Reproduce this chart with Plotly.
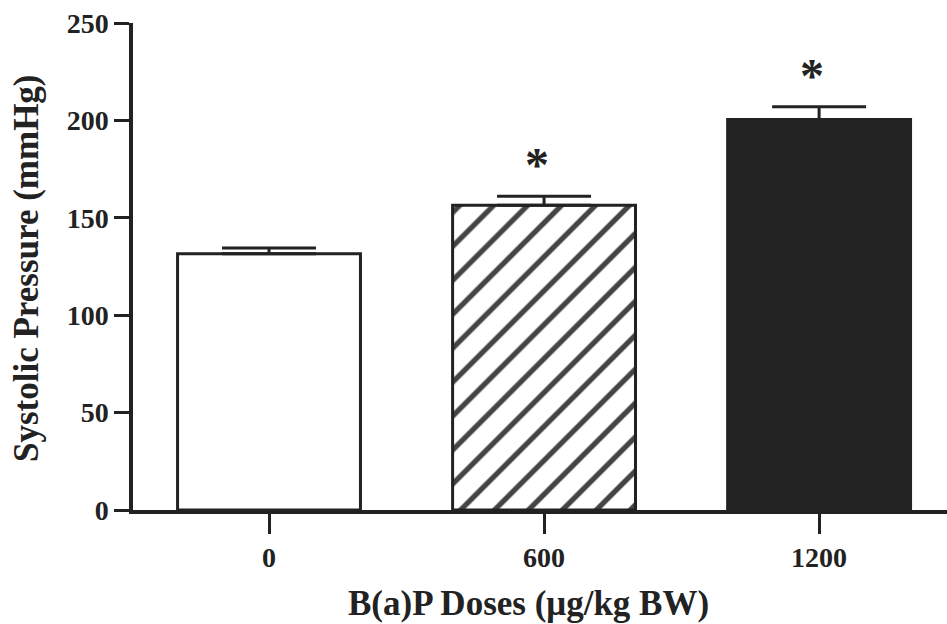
import plotly.graph_objects as go

categories = ["0", "600", "1200"]
values = [131.5, 156.5, 200.5]
errors = [3.0, 4.5, 6.5]
significant = [False, True, True]
y_ticks = [0, 50, 100, 150, 200, 250]

INK = "#222222"
FONT = "Liberation Serif"

x_idx = list(range(len(categories)))

fig = go.Figure()
fig.add_trace(go.Bar(
    x=x_idx, y=values, width=0.665,
    marker=dict(
        color=["white", "white", INK],
        line=dict(color=INK, width=3),
        pattern=dict(shape=["", "/", ""], fgcolor=INK, bgcolor="white",
                     fgopacity=1, size=24, solidity=0.22, fillmode="overlay"),
    ),
    error_y=dict(type="data", symmetric=False, array=errors,
                 arrayminus=[0] * len(errors), color=INK, thickness=3, width=47),
    showlegend=False,
))

for i, (v, e, s) in enumerate(zip(values, errors, significant)):
    if s:
        fig.add_annotation(x=i - 0.025, y=v + e + 1.5, text="*", showarrow=False,
                           yanchor="bottom", xanchor="center",
                           font=dict(family=FONT, size=48, color=INK, weight="bold"))

fig.add_annotation(text="B(a)P Doses (\u03bcg/kg BW)", xref="paper", yref="paper",
                   x=(528 - 133) / 814, y=-(603 - 510) / 487, showarrow=False,
                   xanchor="center", yanchor="middle",
                   font=dict(family=FONT, size=35, color=INK, weight="bold"))
fig.add_annotation(text="Systolic Pressure (mmHg)", xref="paper", yref="paper",
                   x=-(133 - 26) / 814, y=(510 - 268) / 487, showarrow=False,
                   textangle=-90, xanchor="center", yanchor="middle",
                   font=dict(family=FONT, size=35, color=INK, weight="bold"))

fig.update_layout(
    width=947, height=624,
    margin=dict(l=133, r=0, t=23, b=114),
    paper_bgcolor="white", plot_bgcolor="white",
    xaxis=dict(range=[-0.4945, 2.465], tickvals=x_idx, ticktext=categories,
               showline=True, linecolor=INK, linewidth=3.5,
               ticks="outside", ticklen=20, tickwidth=3, tickcolor=INK,
               showgrid=False, zeroline=False,
               tickfont=dict(family=FONT, size=28, color=INK, weight="bold")),
    yaxis=dict(range=[0, 250], tickvals=y_ticks,
               showline=True, linecolor=INK, linewidth=3.5,
               ticks="outside", ticklen=15, tickwidth=3, tickcolor=INK,
               showgrid=False, zeroline=False,
               tickfont=dict(family=FONT, size=28, color=INK, weight="bold")),
)

fig.write_html(
    "out.html",
    config={"displayModeBar": False},
    post_script="document.body.style.margin='0';document.body.style.overflow='hidden';",
)
